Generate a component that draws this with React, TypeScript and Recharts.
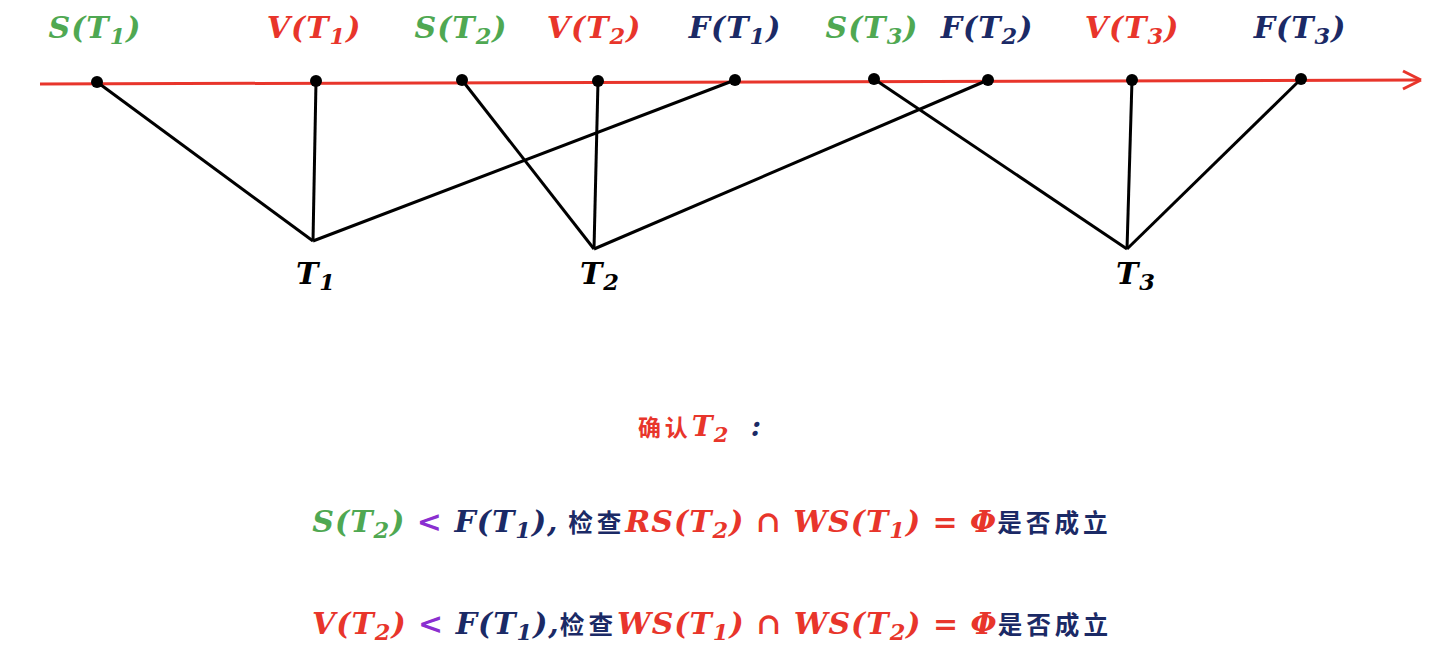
import React from "react";
import { ComposedChart, XAxis, YAxis, ReferenceLine, ReferenceDot, Scatter } from "recharts";

const GREEN = "#4fa852";
const RED = "#e8352b";
const NAVY = "#1b2a66";
const PURPLE = "#8a2fd0";
const BLACK = "#000";

// events on the time axis
const eventNames = ["S1", "V1", "S2", "V2", "F1", "S3", "F2", "V3", "F3"];
const eventX = [97, 316, 462, 598, 735, 874, 988, 1132, 1301];
const eventY = [82, 81, 80, 81, 80, 79, 80, 80, 79];
const eventLabelX = [95, 314, 461, 594, 735, 872, 987, 1132, 1300];
const eventColors = [GREEN, RED, GREEN, RED, NAVY, GREEN, NAVY, RED, NAVY];
const eventLetters = ["S", "V", "S", "V", "F", "S", "F", "V", "F"];
const eventSubs = ["1", "1", "2", "2", "1", "3", "2", "3", "3"];

// transactions
const txNames = ["T1", "T2", "T3"];
const txX = [313, 594, 1127];
const txY = [241, 249, 249];
const txLabelX = [316, 600, 1136];
const links = [
  ["S1", "T1"], ["V1", "T1"], ["F1", "T1"],
  ["S2", "T2"], ["V2", "T2"], ["F2", "T2"],
  ["S3", "T3"], ["V3", "T3"], ["F3", "T3"],
];

type Part = [string, string, boolean?];
const MATH = "'DejaVu Serif', serif";
const CJK = "'Noto Sans CJK SC', sans-serif";

const titleParts: Part[] = [["确认", RED], ["T", RED], ["2", RED, true], ["  :", NAVY]];
const line1Parts: Part[] = [
  ["S(T", GREEN], ["2", GREEN, true], [")", GREEN], [" < ", PURPLE], ["F(T", NAVY], ["1", NAVY, true], ("),".length ? ["),", NAVY] : ["", NAVY]),
  [" 检查", NAVY], ["RS(T", RED], ["2", RED, true], [") ∩ WS(T", RED], ["1", RED, true], [") = Φ", RED], ["是否成立", NAVY],
];
const line2Parts: Part[] = [
  ["V(T", RED], ["2", RED, true], [")", RED], [" < ", PURPLE], ["F(T", NAVY], ["1", NAVY, true], ["),", NAVY],
  ["检查", NAVY], ["WS(T", RED], ["1", RED, true], [") ∩ WS(T", RED], ["2", RED, true], [") = Φ", RED], ["是否成立", NAVY],
];

const isCJK = (s: string) => /[\u4e00-\u9fff]/.test(s);

function Rich({ x, y, parts, size }: { x: number; y: number; parts: Part[]; size: number }) {
  let shifted = false;
  return (
    <text x={x} y={y} textAnchor="middle" fontWeight="bold" fontSize={size}>
      {parts.map(([t, c, sub], i) => {
        let dy = 0;
        if (sub && !shifted) { dy = size * 0.2; shifted = true; }
        else if (!sub && shifted) { dy = -size * 0.2; shifted = false; }
        const cjk = isCJK(t);
        return (
          <tspan key={i} dy={dy} fill={c} fontSize={sub ? size * 0.75 : cjk ? size * 0.82 : size}
            fontFamily={cjk ? CJK : MATH} fontStyle={cjk ? "normal" : "italic"}
            letterSpacing={cjk ? 4 : 1} xmlSpace="preserve">
            {t}
          </tspan>
        );
      })}
    </text>
  );
}

const labelAt = (parts: Part[], size: number) => (props: any) => {
  const vb = props.viewBox || {};
  return <Rich x={vb.x + (vb.width || 0) / 2} y={vb.y + (vb.height || 0) / 2} parts={parts} size={size} />;
};

const dotData = eventNames.map((n, i) => ({ x: eventX[i], y: eventY[i] }));

export default function App() {
  const pos = (n: string): [number, number] => {
    const ei = eventNames.indexOf(n);
    if (ei >= 0) return [eventX[ei], eventY[ei]];
    const ti = txNames.indexOf(n);
    return [txX[ti], txY[ti]];
  };
  return (
    <div>
      <style>{"body{margin:0}"}</style>
      <ComposedChart width={1444} height={666} margin={{ top: 0, right: 0, bottom: 0, left: 0 }}>
        <XAxis type="number" dataKey="x" domain={[0, 1444]} hide />
        <YAxis type="number" dataKey="y" domain={[0, 666]} reversed hide />
        <ReferenceLine segment={[{ x: 40, y: 84 }, { x: 1420, y: 80 }]} stroke={RED} strokeWidth={3} />
        <ReferenceLine segment={[{ x: 1421, y: 80 }, { x: 1403, y: 71 }]} stroke={RED} strokeWidth={3} />
        <ReferenceLine segment={[{ x: 1421, y: 80 }, { x: 1403, y: 89 }]} stroke={RED} strokeWidth={3} />
        {links.map(([a, b], i) => {
          const [x1, y1] = pos(a);
          const [x2, y2] = pos(b);
          return <ReferenceLine key={i} segment={[{ x: x1, y: y1 }, { x: x2, y: y2 }]} stroke={BLACK} strokeWidth={3} />;
        })}
        <Scatter data={dotData} fill={BLACK} isAnimationActive={false}
          shape={(p: any) => <circle cx={p.cx} cy={p.cy} r={6} fill={BLACK} />} />
        {eventNames.map((n, i) => (
          <ReferenceDot key={n} x={eventLabelX[i]} y={38} r={0} stroke="none" fill="none"
            label={labelAt([[eventLetters[i] + "(T", eventColors[i]], [eventSubs[i], eventColors[i], true], [")", eventColors[i]]], 30)} />
        ))}
        {txNames.map((n, i) => (
          <ReferenceDot key={n} x={txLabelX[i]} y={284} r={0} stroke="none" fill="none"
            label={labelAt([["T", BLACK], [n.slice(1), BLACK, true]], 30)} />
        ))}
        <ReferenceDot x={700} y={436} r={0} stroke="none" fill="none" label={labelAt(titleParts, 28)} />
        <ReferenceDot x={712} y={532} r={0} stroke="none" fill="none" label={labelAt(line1Parts, 30)} />
        <ReferenceDot x={712} y={634} r={0} stroke="none" fill="none" label={labelAt(line2Parts, 30)} />
      </ComposedChart>
    </div>
  );
}
